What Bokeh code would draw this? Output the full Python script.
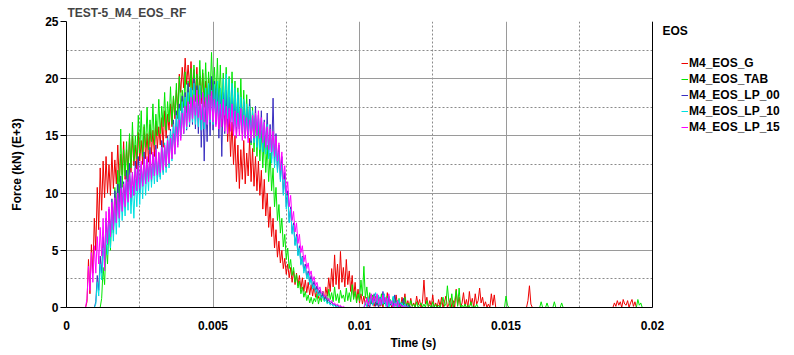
import numpy as np
from bokeh.plotting import figure
from bokeh.models import (FixedTicker, Legend, LegendItem, Label, Range1d, Span, Title)
from bokeh.embed import file_html
from bokeh.resources import INLINE

# ---------------- data (sampled every 0.05 ms from 0 to 20 ms) ----------------
N = 401
dt = 0.00005
time_s = [round(i * dt, 7) for i in range(N)]


def full(vals):
    return (vals + [0.0] * N)[:N]


eos_g = full([0.0] * 14 + [
    0.5, 4.2, 1.2, 5.5, 3.0, 7.8, 5.0, 10.5, 6.8, 12.2,
    8.5, 12.8, 9.6, 13.2, 10.0, 12.5, 9.8, 13.6, 10.4, 12.9,
    10.8, 14.2, 11.0, 13.4, 11.6, 14.5, 11.2, 13.8, 12.0, 14.9,
    11.8, 15.0, 12.4, 14.2, 12.1, 15.3, 12.8, 14.6, 12.5, 15.8,
    13.0, 15.2, 12.7, 16.0, 13.4, 15.5, 13.2, 16.3, 13.9, 15.8,
    14.2, 16.6, 14.0, 17.2, 14.8, 16.9, 15.5, 17.8, 15.8, 18.4,
    16.5, 19.0, 17.2, 20.4, 18.8, 21.0, 19.2, 21.8, 19.5, 21.2,
    19.3, 21.5, 19.0, 20.8, 18.6, 21.0, 18.2, 20.2, 17.8, 20.5,
    17.5, 19.8, 17.2, 20.0, 16.8, 19.4, 17.0, 19.6, 16.5, 19.2,
    16.2, 19.0, 15.8, 18.6, 16.0, 18.2, 14.5, 17.0, 13.2, 16.2,
    12.5, 15.0, 11.0, 14.2, 10.4, 13.8, 11.2, 14.6, 10.8, 13.5,
    11.5, 14.8, 11.0, 13.9, 10.6, 13.2, 10.2, 12.8, 9.8, 12.0,
    8.6, 11.2, 8.0, 10.0, 7.0, 8.8, 6.2, 7.8, 5.2, 6.8,
    4.4, 5.8, 3.9, 5.0, 3.4, 4.3, 2.9, 3.8, 2.6, 3.5,
    2.2, 3.2, 2.0, 3.0, 1.9, 2.8, 1.6, 2.6, 1.4, 2.4,
    1.3, 2.2, 1.1, 2.0, 1.0, 1.9, 0.9, 1.7, 0.8, 1.5,
    0.7, 1.4, 0.6, 1.8, 1.0, 2.6, 1.4, 3.4, 1.8, 4.6,
    2.0, 3.8, 1.6, 4.9, 2.2, 3.5, 1.8, 4.2, 2.0, 3.2,
    1.4, 2.8, 0.9, 2.2, 0.6, 1.6, 0.4, 1.2, 0.3, 1.0,
    0.2, 0.9, 0.1, 1.1, 0.3, 0.8, 0.1, 0.6, 0.2, 1.0,
    0.1, 0.7, 0.0, 0.9, 0.2, 1.3, 0.1, 0.6, 0.0, 0.8,
    0.2, 1.1, 0.1, 0.5, 0.0, 0.9, 0.2, 1.2, 0.1, 0.6,
    0.0, 0.8, 0.1, 0.4, 0.0, 1.0, 0.2, 0.7, 0.0, 0.5,
    2.4, 0.3, 0.9, 0.0, 0.6, 0.1, 1.1, 0.0, 0.4, 0.0,
    0.7, 0.1, 0.9, 0.0, 0.5, 1.0, 0.0, 0.3, 0.8, 0.0,
    0.6, 0.0, 1.6, 0.2, 0.9, 0.0, 0.4, 1.3, 0.1, 0.7,
    0.0, 1.4, 0.2, 0.8, 0.0, 1.2, 0.3, 0.6, 1.7, 0.4,
    0.9, 0.1, 0.5, 0.0, 0.3, 0.0, 1.2, 0.2, 1.1, 0.0,
] + [0.0] * 21 + [0.6, 1.9, 0.3] + [0.0] * 56
    + [0.4, 0.1, 0.6, 0.2, 0.5, 0.0, 0.7, 0.3, 0.2, 0.6, 0.0, 0.4, 0.7, 0.1, 0.5, 0.0])

eos_tab = full([0.0] * 24 + [
    0.8, 3.5, 2.0, 5.5, 3.8, 7.2, 5.0, 8.8, 6.5, 10.5,
    8.0, 12.0, 9.2, 15.6, 10.5, 13.8, 11.5, 14.5, 11.0, 15.2,
    12.2, 16.2, 12.8, 15.0, 13.0, 16.8, 13.5, 17.2, 13.2, 16.0,
    14.0, 17.5, 13.8, 16.4, 14.5, 17.8, 14.2, 16.9, 15.0, 18.2,
    15.2, 17.6, 15.8, 18.8, 15.5, 18.0, 16.2, 19.3, 16.0, 18.5,
    16.8, 19.6, 16.5, 20.2, 17.2, 19.0, 17.5, 20.6, 17.0, 19.8,
    17.8, 20.9, 17.4, 21.2, 18.0, 20.4, 17.6, 21.6, 18.3, 20.8,
    18.0, 21.4, 17.8, 20.6, 18.5, 22.3, 18.2, 21.0, 17.9, 21.8,
    17.6, 21.2, 17.3, 20.5, 17.0, 21.0, 16.8, 20.2, 16.5, 20.6,
    16.4, 19.8, 16.0, 19.2, 15.8, 20.0, 15.5, 19.0, 15.2, 18.6,
    14.8, 18.2, 14.2, 17.5, 13.6, 16.8, 13.2, 16.2, 12.8, 15.5,
    12.2, 15.0, 11.8, 14.2, 11.0, 13.5, 10.2, 12.2, 8.8, 10.5,
    7.6, 9.0, 6.5, 7.8, 5.3, 6.4, 4.2, 5.2, 3.4, 4.2,
    2.8, 3.5, 2.2, 2.9, 1.7, 2.3, 1.2, 1.8, 0.9, 1.4,
    0.6, 1.1, 0.4, 0.9, 0.3, 0.8, 0.5, 1.2, 0.3, 0.9,
    0.5, 1.4, 0.6, 1.1, 0.4, 1.6, 0.7, 1.3, 0.5, 1.8,
    0.6, 1.2, 0.4, 1.5, 0.8, 1.1, 0.5, 1.7, 0.6, 1.3,
    0.5, 2.0, 0.7, 1.4, 0.4, 1.2, 0.6, 2.4, 1.0, 3.6,
    0.8, 1.8, 0.5, 1.3, 0.3, 1.1, 0.6, 1.0, 0.2, 0.9,
    0.4, 1.2, 0.2, 0.8, 0.3, 1.0, 0.1, 0.7, 0.3, 0.9,
    0.1, 0.6, 0.2, 0.8, 0.0, 0.5, 0.2, 0.9, 0.1, 0.4,
    0.0, 0.6, 0.1, 0.3, 0.0, 0.5, 0.0, 0.2, 0.4, 0.0,
    0.3, 0.0, 0.6, 0.1, 0.2, 0.0, 0.5, 0.0, 0.3, 0.0,
    0.2, 0.0, 0.4, 0.9, 0.1, 0.3, 1.9, 0.5, 0.0, 1.2,
    0.0, 0.6, 1.5, 0.1, 1.7, 0.0, 0.2, 0.0, 0.3, 0.0,
    0.2, 0.0, 0.5, 0.0, 0.1, 0.0, 0.3, 0.0, 0.0, 0.0,
] + [0.0] * 16 + [1.0, 0.2] + [0.0] * 22 + [0.5] + [0.0] * 3 + [0.4] + [0.0] * 4
    + [0.5] + [0.0] * 4 + [0.4] + [0.0] * 51 + [0.7, 0.2, 0.4])

eos_lp_00 = full([0.0] * 20 + [
    0.5, 2.8, 1.5, 4.5, 3.0, 6.2, 4.2, 7.8, 5.5, 8.6,
    6.2, 9.5, 6.8, 10.2, 7.5, 10.8, 8.2, 11.5, 8.6, 11.0,
    9.0, 12.0, 9.5, 12.6, 9.2, 11.8, 9.8, 12.8, 10.2, 13.2,
    10.0, 12.5, 10.6, 13.6, 10.8, 13.0, 11.2, 14.0, 11.0, 13.4,
    11.5, 14.2, 11.0, 13.5, 11.4, 14.6, 11.8, 14.0, 12.2, 15.0,
    12.5, 15.6, 13.0, 16.4, 13.8, 17.2, 14.5, 17.8, 15.0, 18.5,
    15.2, 18.8, 15.5, 19.6, 15.8, 19.2, 16.0, 20.0, 15.6, 19.4,
    15.2, 19.0, 14.0, 18.6, 12.8, 18.2, 14.5, 19.5, 15.0, 20.2,
    15.5, 19.8, 16.0, 19.2, 14.8, 18.6, 13.2, 18.8, 15.2, 19.0,
    15.8, 18.4, 16.2, 19.0, 15.4, 18.2, 15.0, 18.6, 15.6, 17.8,
    15.2, 18.0, 14.8, 17.4, 15.0, 18.2, 14.4, 17.0, 14.6, 17.6,
    14.2, 16.8, 14.0, 17.2, 13.6, 16.4, 13.8, 17.0, 13.2, 16.0,
    13.0, 18.3, 12.6, 15.2, 12.0, 14.2, 11.2, 13.2, 10.0, 11.8,
    8.8, 10.2, 7.5, 8.8, 6.5, 7.4, 5.5, 6.4, 4.6, 5.4,
    3.8, 4.5, 3.2, 3.8, 2.6, 3.2, 2.2, 2.8, 1.8, 2.3,
    1.5, 1.9, 1.2, 1.5, 0.9, 1.2, 0.7, 0.9, 0.5, 0.7,
    0.3, 0.5, 0.2, 0.3, 0.1, 0.2, 0.0, 0.1, 0.0, 0.0,
] + [0.0] * 16 + [
    0.4, 0.0, 0.8, 0.2, 1.2, 0.1, 0.6, 0.0, 0.9, 0.2,
    1.4, 0.3, 0.7, 0.0, 1.0, 0.2, 0.5, 0.0, 1.1, 0.1,
    0.6, 0.0, 0.4, 0.0, 0.8, 0.1, 0.3, 0.0, 0.2, 0.0,
])

eos_lp_10 = full([0.0] * 20 + [
    0.3, 2.2, 1.0, 3.8, 2.4, 5.2, 3.6, 6.5, 4.6, 7.4,
    5.2, 8.2, 5.8, 9.0, 6.4, 9.6, 7.0, 10.4, 7.6, 10.0,
    8.0, 10.8, 8.5, 11.4, 8.2, 10.6, 7.8, 11.2, 8.8, 11.8,
    9.0, 12.2, 9.5, 12.8, 9.8, 12.4, 10.2, 13.2, 10.5, 12.8,
    10.8, 13.6, 11.0, 13.2, 11.2, 14.0, 11.6, 14.4, 11.8, 14.8,
    12.2, 15.4, 12.8, 16.0, 13.4, 16.8, 14.2, 17.4, 14.8, 18.0,
    15.2, 18.4, 15.6, 18.8, 16.0, 19.2, 16.2, 19.6, 16.0, 19.0,
    15.8, 19.4, 15.5, 18.8, 15.6, 19.2, 16.0, 19.6, 16.2, 19.0,
    16.0, 19.5, 16.4, 19.8, 16.2, 19.2, 16.5, 20.0, 16.8, 20.4,
    16.5, 20.0, 16.2, 19.6, 16.0, 19.2, 15.8, 18.8, 15.6, 18.4,
    15.4, 18.2, 15.0, 17.8, 14.8, 17.6, 14.6, 17.2, 14.4, 17.0,
    14.0, 16.8, 13.8, 16.4, 13.6, 16.2, 13.4, 16.0, 13.0, 15.4,
    12.6, 15.0, 12.2, 14.4, 11.8, 13.6, 11.0, 12.6, 9.8, 11.2,
    8.6, 9.8, 7.4, 8.6, 6.4, 7.2, 5.4, 6.2, 4.5, 5.2,
    3.7, 4.4, 3.0, 3.6, 2.5, 3.0, 2.0, 2.5, 1.6, 2.0,
    1.3, 1.6, 1.0, 1.3, 0.8, 1.0, 0.5, 0.7, 0.3, 0.5,
    0.2, 0.3, 0.1, 0.2, 0.0, 0.1, 0.0, 0.0, 0.0, 0.0,
] + [0.0] * 14 + [
    0.5, 0.1, 0.9, 0.3, 1.0, 0.2, 0.7, 1.3, 0.4, 1.1,
    0.2, 0.9, 0.3, 1.2, 0.1, 0.8, 0.0, 0.6, 0.2, 1.0,
    0.1, 0.5, 0.0, 0.7, 0.2, 0.4, 0.0, 0.3, 0.0, 0.1,
])

eos_lp_15 = full([0.0] * 14 + [
    0.8, 3.6, 1.5, 4.8, 2.2, 5.4, 3.0, 6.2, 3.8, 7.0,
    4.5, 7.8, 3.2, 8.4, 5.6, 8.8, 6.2, 9.2, 6.8, 9.6,
    7.4, 10.0, 7.8, 10.4, 8.4, 10.8, 8.8, 11.2, 9.2, 11.6,
    9.6, 11.8, 9.8, 12.2, 10.2, 12.4, 10.4, 12.8, 10.6, 13.0,
    10.8, 13.2, 11.0, 13.4, 11.2, 13.6, 11.5, 13.8, 11.6, 13.6,
    11.8, 14.0, 12.0, 14.2, 12.3, 14.6, 12.6, 14.8, 13.0, 15.2,
    13.4, 15.8, 14.0, 16.4, 14.6, 17.0, 15.2, 17.6, 15.8, 18.0,
    16.2, 18.4, 16.5, 18.6, 16.8, 19.0, 16.6, 18.6, 16.4, 18.8,
    16.2, 18.4, 16.0, 18.6, 16.4, 18.9, 16.2, 18.2, 15.8, 18.0,
    15.6, 17.8, 15.8, 18.2, 15.4, 17.6, 15.2, 17.4, 15.4, 17.8,
    15.0, 17.2, 14.8, 17.0, 15.0, 17.4, 14.6, 16.8, 14.8, 16.6,
    14.4, 16.4, 14.6, 16.8, 14.8, 17.0, 15.0, 17.2, 14.8, 16.6,
    14.4, 16.2, 14.0, 15.8, 13.8, 15.6, 13.6, 15.4, 13.2, 15.0,
    12.8, 14.4, 12.0, 13.6, 11.2, 12.4, 10.0, 11.0, 8.8, 9.8,
    7.6, 8.4, 6.6, 7.4, 5.6, 6.4, 4.8, 5.4, 4.0, 4.6,
    3.4, 3.9, 2.8, 3.2, 2.3, 2.7, 1.9, 2.2, 1.5, 1.8,
    1.2, 1.4, 0.9, 1.1, 0.7, 0.8, 0.5, 0.6, 0.3, 0.4,
    0.2, 0.3, 0.1, 0.2, 0.0, 0.1, 0.0, 0.0, 0.0, 0.0,
] + [0.0] * 10 + [
    0.3, 0.8, 0.2, 0.6, 1.2, 0.4, 1.0, 0.5, 1.2, 0.3,
    0.8, 0.2, 1.1, 0.4, 0.9, 0.1, 1.2, 0.3, 0.6, 0.0,
    0.4, 0.1, 0.6, 0.0, 0.3, 0.0, 0.2, 0.0, 0.1, 0.0,
])

series_names = ["M4_EOS_G", "M4_EOS_TAB", "M4_EOS_LP_00", "M4_EOS_LP_10", "M4_EOS_LP_15"]
series_values = [eos_g, eos_tab, eos_lp_00, eos_lp_10, eos_lp_15]
series_colors = ["#ee0000", "#00e600", "#3a2fc0", "#00e0e0", "#ff00ff"]

x_ticks = [0.0, 0.005, 0.01, 0.015, 0.02]
x_tick_labels = ["0", "0.005", "0.01", "0.015", "0.02"]
x_minor = [0.0025, 0.0075, 0.0125, 0.0175]
y_ticks = [0, 5, 10, 15, 20, 25]
y_minor = [2.5, 7.5, 12.5, 17.5, 22.5]
x_min, x_max = 0.0, 0.02
y_min, y_max = 0.0, 25.0

FONT = "Liberation Sans"

# ---------------- layout ----------------
W, H = 794, 355
LEFT, TOP, BOTTOM = 66, 21, 48
AXIS_PX = 586                      # pixel length of the 0..0.02 s axis
FRAME_PX = W - LEFT                # frame extends under the legend area
x_view_end = x_max * FRAME_PX / AXIS_PX

p = figure(width=W, height=H, output_backend="svg", toolbar_location=None,
           x_range=Range1d(x_min, x_view_end), y_range=Range1d(y_min, y_max),
           min_border_left=LEFT, min_border_right=0, min_border_top=TOP,
           min_border_bottom=BOTTOM)
p.background_fill_color = "white"
p.border_fill_color = "white"
p.outline_line_color = None

p.title.text = "TEST-5_M4_EOS_RF"
p.title.align = "left"
p.title.text_font = FONT
p.title.text_font_size = "12px"
p.title.text_font_style = "bold"
p.title.standoff = 3
p.title.offset = 1

# axes
p.xaxis.ticker = FixedTicker(ticks=x_ticks, minor_ticks=x_minor)
p.xaxis.major_label_overrides = {t: s for t, s in zip(x_ticks, x_tick_labels)}
p.xaxis.bounds = (x_min, x_max)
p.yaxis.ticker = FixedTicker(ticks=y_ticks, minor_ticks=y_minor)
for ax in (p.xaxis[0], p.yaxis[0]):
    ax.axis_line_color = "black"
    ax.axis_line_width = 1
    ax.minor_tick_line_color = None
    ax.major_tick_in = 0
    ax.major_label_text_font = FONT
    ax.major_label_text_font_size = "12px"
    ax.major_label_text_font_style = "bold"
    ax.major_label_text_color = "black"
    ax.axis_label_text_font = FONT
    ax.axis_label_text_font_size = "12px"
    ax.axis_label_text_font_style = "bold"
    ax.axis_label_text_color = "black"
p.xaxis.major_tick_out = 0
p.xaxis.major_label_standoff = 9
p.yaxis.major_tick_out = 6
p.yaxis.major_tick_line_color = "black"
p.yaxis.major_label_standoff = 2
p.yaxis.axis_label = "Force (kN) (E+3)"
p.yaxis.axis_label_standoff = 18

# x-axis title placed under the data area
xt = Title(text="Time (s)", align="left", offset=324, standoff=2,
           text_font=FONT, text_font_size="12px", text_font_style="bold",
           text_color="black")
p.add_layout(xt, "below")

# grid, limited to the data area
for g in (p.xgrid[0], p.ygrid[0]):
    g.grid_line_color = "#9a9a9a"
    g.grid_line_width = 1
    g.minor_grid_line_color = "#8a8a8a"
    g.minor_grid_line_dash = "2 2"
    g.minor_grid_line_width = 1
p.xgrid[0].cross_bounds = (y_min, y_max)
p.ygrid[0].cross_bounds = (x_min, x_max)

# right edge of data area
p.add_layout(Span(location=x_max, dimension="height", line_color="black", line_width=1))

# series
renderers = []
for name, vals, col in zip(series_names, series_values, series_colors):
    r = p.line(time_s, vals, line_color=col, line_width=1)
    renderers.append(r)

items = [LegendItem(label=n, renderers=[r]) for n, r in zip(series_names, renderers)]
legend = Legend(items=items, location=(615, 172), orientation="vertical",
                glyph_width=7, glyph_height=16, label_height=16, label_standoff=1,
                padding=0, margin=0, spacing=0,
                border_line_color=None, background_fill_alpha=0,
                label_text_font=FONT, label_text_font_style="bold",
                label_text_font_size="12px", label_text_color="black")
p.add_layout(legend)

eos_label = Label(x=596, y=277, x_units="screen", y_units="screen", text="EOS",
                  text_font=FONT, text_font_style="bold", text_font_size="12px",
                  text_baseline="middle", text_color="black")
p.add_layout(eos_label)

open("out.html", "w").write(file_html(p, INLINE))
